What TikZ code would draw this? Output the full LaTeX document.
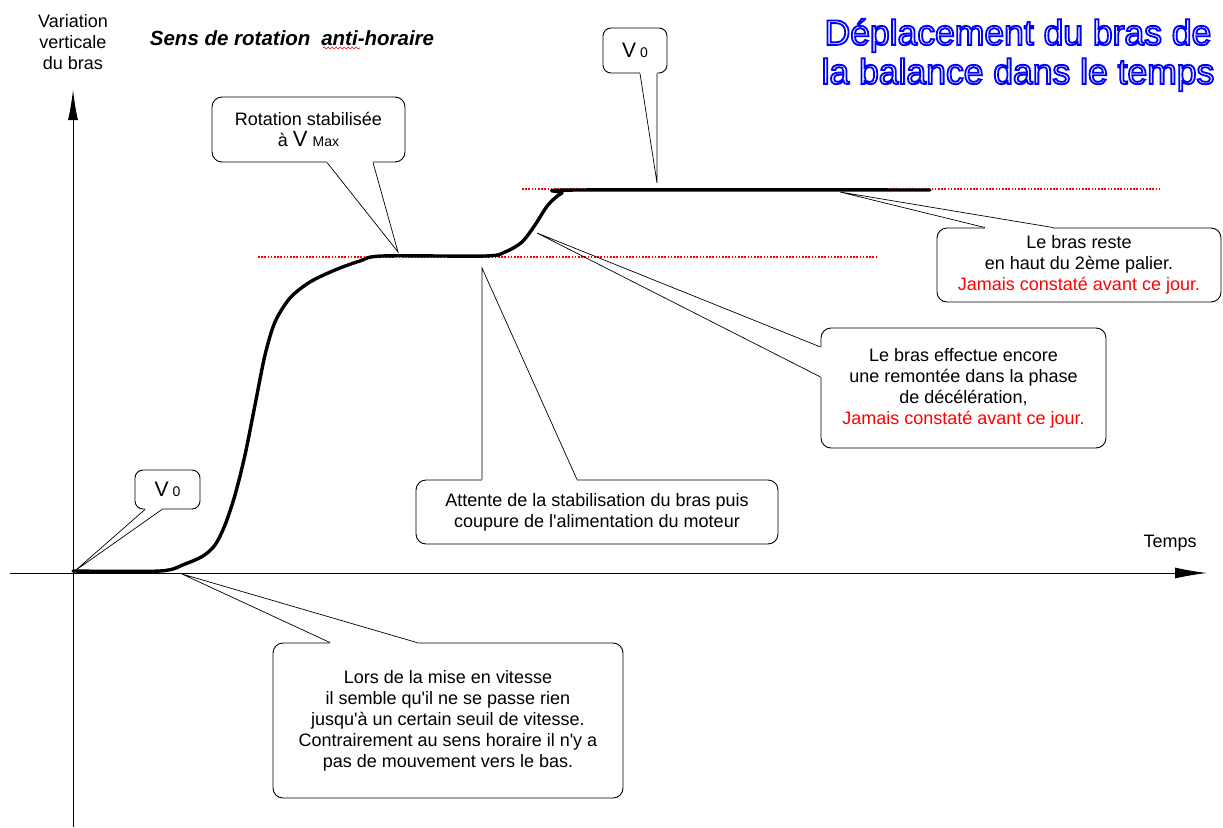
\documentclass[tikz,border=0pt]{standalone}
\usepackage{fontspec}
\setmainfont{Liberation Sans}
\usepackage{xcolor}
\usetikzlibrary{calc,arrows.meta,decorations.pathmorphing}

\begin{document}
\begin{tikzpicture}[x=1pt,y=-1pt,
		texte/.style={font=\fontsize{18}{21}\selectfont,align=center},
		bulle/.style={texte,draw,line width=0.9pt,rounded corners=10pt,inner sep=0pt},
		queue/.style={line width=0.7pt},
		trou/.style={white,line width=2.2pt},
		courbe/.style={line width=3.4pt,line join=round,line cap=round},
		niveau/.style={red,dash pattern=on 1.6pt off 1.6pt,line width=1.1pt}]
	\useasboundingbox (0,0) rectangle (1223,827);

	% axes
	\draw[line width=1pt,-{Latex[length=30pt,width=10pt]}] (73,827) -- (73,90);
	\draw[line width=1pt,-{Latex[length=32pt,width=11pt]}] (10,573) -- (1207,573);
	\node[texte] (ordonnee) at (73,42) {Variation\\verticale\\du bras};
	\node[texte] (abscisse) at (1170,543) {Temps};

	% titres
	\node[font=\fontsize{20.5}{24}\selectfont\bfseries\itshape] (sens) at (292,38) {Sens de rotation\hspace{0.25em} anti-horaire};
	\draw[red,line width=0.6pt,decorate,decoration={snake,amplitude=1pt,segment length=4pt}] (323,48) -- (360,48);
	\node[font=\fontsize{35.5}{39}\selectfont,align=center,text=white] (titre) at (1018,55) {\special{pdf:literal direct 0 0 1 RG 1.8 w 1 Tr}Déplacement du bras de\\la balance dans le temps\special{pdf:literal direct 0 Tr}};

	% paliers
	\draw[niveau] (258,257) -- (878,257);
	\draw[niveau] (522,189) -- (1162,189);
	\draw[courbe] plot[smooth,tension=0.5] coordinates {(73,571) (160,571) (185,564) (203,556) (215,545) (225,525) (235,495) (245,455) (255,405) (265,355) (275,322) (290,298) (310,282) (335,270) (360,261) (382,256) (485,256) (505,252) (522,242) (535,225) (548,205) (562,193) (578,190) (930,190)};

	% points vises
	\coordinate (pvbas) at (76,570);
	\coordinate (pvhaut) at (657,183);
	\coordinate (pvmax) at (398,252);
	\coordinate (ppalier) at (840,192);
	\coordinate (premontee) at (537,233);
	\coordinate (pattente) at (482,268);
	\coordinate (plors) at (182,574);

	% bulles
	\node[bulle,rounded corners=8pt,minimum width=65pt,minimum height=39pt] (vbas) at (167.5,489.5) {{\fontsize{21}{21}\selectfont V}\hspace{4pt}{\fontsize{14}{14}\selectfont 0}};
	\node[bulle,rounded corners=8pt,minimum width=64pt,minimum height=45pt] (vhaut) at (635,50.5) {{\fontsize{21}{21}\selectfont V}\hspace{4pt}{\fontsize{14}{14}\selectfont 0}};
	\node[bulle,minimum width=193pt,minimum height=65pt] (vmax) at (308.5,129.5) {Rotation stabilisée\\à {\fontsize{22}{22}\selectfont V} {\fontsize{14}{14}\selectfont Max}};
	\node[bulle,minimum width=284pt,minimum height=74pt] (palier) at (1079,265) {Le bras reste\\en haut du 2ème palier.\\\textcolor{red}{Jamais constaté avant ce jour.}};
	\node[bulle,minimum width=285pt,minimum height=120pt] (remontee) at (963.5,388) {Le bras effectue encore\\une remontée dans la phase\\de décélération,\\\textcolor{red}{Jamais constaté avant ce jour.}};
	\node[bulle,minimum width=362pt,minimum height=64pt] (attente) at (597,512) {Attente de la stabilisation du bras puis\\coupure de l\textquotesingle alimentation du moteur};
	\node[bulle,minimum width=350pt,minimum height=155pt] (lors) at (448,720.5) {Lors de la mise en vitesse\\il semble qu\textquotesingle il ne se passe rien\\jusqu\textquotesingle à un certain seuil de vitesse.\\Contrairement au sens horaire il n\textquotesingle y a\\pas de mouvement vers le bas.};

	% queues des bulles
	\draw[trou] ($(vbas.south)+(-22.5,0)$) -- ($(vbas.south)+(-5.5,0)$);
	\draw[queue] ($(vbas.south)+(-22.5,0)$) -- (pvbas) -- ($(vbas.south)+(-5.5,0)$);
	\draw[trou] ($(vhaut.south)+(5,0)$) -- ($(vhaut.south)+(22,0)$);
	\draw[queue] ($(vhaut.south)+(5,0)$) -- (pvhaut) -- ($(vhaut.south)+(22,0)$);
	\draw[trou] ($(vmax.south)+(18.5,0)$) -- ($(vmax.south)+(64.5,0)$);
	\draw[queue] ($(vmax.south)+(18.5,0)$) -- (pvmax) -- ($(vmax.south)+(64.5,0)$);
	\draw[trou] ($(palier.north)+(-94,0)$) -- ($(palier.north)+(-26,0)$);
	\draw[queue] ($(palier.north)+(-94,0)$) -- (ppalier) -- ($(palier.north)+(-26,0)$);
	\draw[trou] ($(remontee.west)+(0,-41)$) -- ($(remontee.west)+(0,-11)$);
	\draw[queue] ($(remontee.west)+(0,-41)$) -- (premontee) -- ($(remontee.west)+(0,-11)$);
	\draw[trou] ($(attente.north)+(-115,0)$) -- ($(attente.north)+(-20,0)$);
	\draw[queue] ($(attente.north)+(-115,0)$) -- (pattente) -- ($(attente.north)+(-20,0)$);
	\draw[trou] ($(lors.north)+(-118,0)$) -- ($(lors.north)+(-31,0)$);
	\draw[queue] ($(lors.north)+(-118,0)$) -- (plors) -- ($(lors.north)+(-31,0)$);
\end{tikzpicture}
\end{document}
